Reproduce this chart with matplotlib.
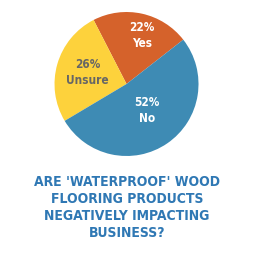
import numpy as np
import matplotlib.pyplot as plt

# survey answers
answers = ['Yes', 'Unsure', 'No']
shares = [22, 26, 52]
colors = ['#D5622B', '#FDD23C', '#3E8BB4']
text_colors = ['white', '#666666', 'white']
title = "ARE 'WATERPROOF' WOOD\nFLOORING PRODUCTS\nNEGATIVELY IMPACTING\nBUSINESS?"

fig = plt.figure(figsize=(2.54, 2.74), dpi=100)
ax = fig.add_axes([0.2146, 0.4307, 0.567, 0.5255])

wedges, _ = ax.pie(shares, colors=colors, startangle=38, counterclock=True,
                   radius=1, wedgeprops=dict(linewidth=0))
ax.set_xlim(-1, 1)
ax.set_ylim(-1, 1)
ax.set_aspect('equal')

# label distance from centre and angle nudge for each slice
dist = [0.70, 0.56, 0.46]
nudge = [-5, 0, 3]
for w, name, pct, c, d, n in zip(wedges, answers, shares, text_colors, dist, nudge):
    ang = np.deg2rad((w.theta1 + w.theta2) / 2 + n)
    x, y = d * np.cos(ang), d * np.sin(ang)
    ax.text(x, y, f"{pct}%\n{name}", ha='center', va='center', color=c,
            fontsize=8.5, fontweight='bold', linespacing=1.3,
            fontstretch='condensed')

fig.text(0.5, 1 - 207.5 / 274, title, ha='center', va='center',
         color='#2F78B4', fontsize=10, fontweight='bold', linespacing=1.3,
         fontstretch='condensed')

fig.savefig('out.png', dpi=100)
